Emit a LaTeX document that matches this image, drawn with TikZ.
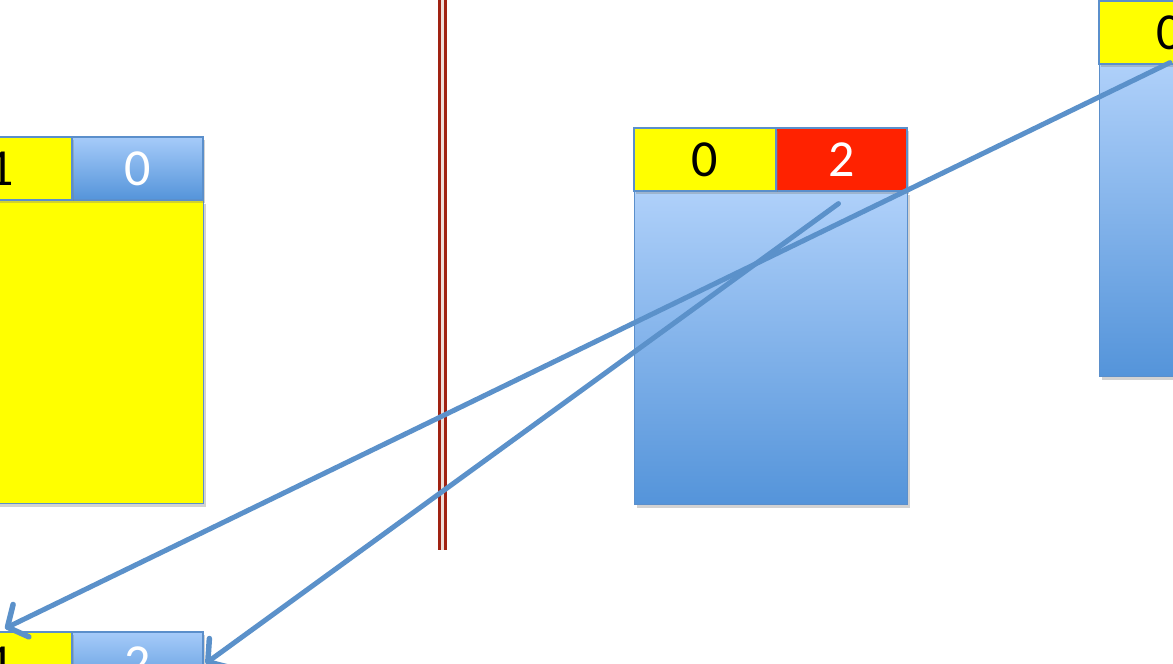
\documentclass[tikz,border=0pt]{standalone}
\usepackage{fontspec}
\setmainfont{Carlito}
\usetikzlibrary{arrows.meta,shadows}
\definecolor{edgeblue}{HTML}{5B8FCB}
\definecolor{linkblue}{HTML}{5B91CA}
\definecolor{hiblue}{HTML}{A6CBF9}
\definecolor{loblue}{HTML}{5494DA}
\definecolor{cellred}{HTML}{FF2200}
\definecolor{cellyel}{HTML}{FFFF00}
\definecolor{walred}{HTML}{A02212}
\tikzset{
  cell/.style={draw=edgeblue, line width=1.2pt, minimum height=63pt, inner sep=0pt,
    font=\fontsize{52}{60}\selectfont,
    drop shadow={opacity=0.35, shadow xshift=2pt, shadow yshift=-3pt}},
  ycell/.style={cell, fill=cellyel, minimum width=142pt, text=black},
  bcell/.style={cell, minimum width=131pt, top color=hiblue, bottom color=loblue, text=white},
  rcell/.style={cell, minimum width=131pt, fill=cellred, text=white},
  body/.style={draw=edgeblue, line width=1.2pt, minimum width=273pt, inner sep=0pt,
    anchor=north west, drop shadow={opacity=0.35, shadow xshift=2pt, shadow yshift=-3pt}},
  bluebody/.style={body, top color=hiblue!90!white, bottom color=loblue},
  link/.style={draw=linkblue, line width=5pt, line cap=round,
    -{Straight Barb[length=15pt, width=36pt, line width=5.5pt, line cap=round, line join=round]}},
  wall/.style={draw=walred, line width=3pt, double={rgb,255:red,238;green,222;blue,216}, double distance=3pt}
}
\begin{document}
\begin{tikzpicture}[x=1pt, y=-1pt]
\useasboundingbox (0,0) rectangle (1173,664);
\clip (0,0) rectangle (1173,664);
\fill[white] (0,0) rectangle (1173,664);
% divider
\coordinate (wtop) at (442.5,-10);
\coordinate (wbot) at (442.5,550);
\draw[wall] (wtop) -- (wbot);
% top left
\node[body, fill=cellyel, minimum height=303pt] (abody) at (-70,200) {};
\node[bcell] (ablue) at (137.5,168.5) {0};
\node[ycell] (ayel) at (1,168.5) {1};
% bottom left
\node[body, fill=cellyel, minimum height=303pt] (dbody) at (-70,695) {};
\node[bcell] (dblue) at (137.5,663.5) {2};
\node[ycell] (dyel) at (1,663.5) {1};
% middle
\node[bluebody, minimum height=313pt] (mbody) at (634,191) {};
\node[rcell] (mred) at (841.5,159.5) {2};
\node[ycell] (myel) at (705,159.5) {0};
% top right
\node[bluebody, minimum height=312pt] (rbody) at (1099,64) {};
\node[bcell] (rblue) at (1306.5,32.5) {};
\node[ycell] (rhead) at (1170,32.5) {0};
% pointers
\draw[link] ([yshift=2pt]rhead.south) -- ([xshift=4pt,yshift=3pt]dyel.north);
\draw[link] ([xshift=-3pt,yshift=-12pt]mred.south) -- ([xshift=2pt]dblue.east);
\end{tikzpicture}
\end{document}
